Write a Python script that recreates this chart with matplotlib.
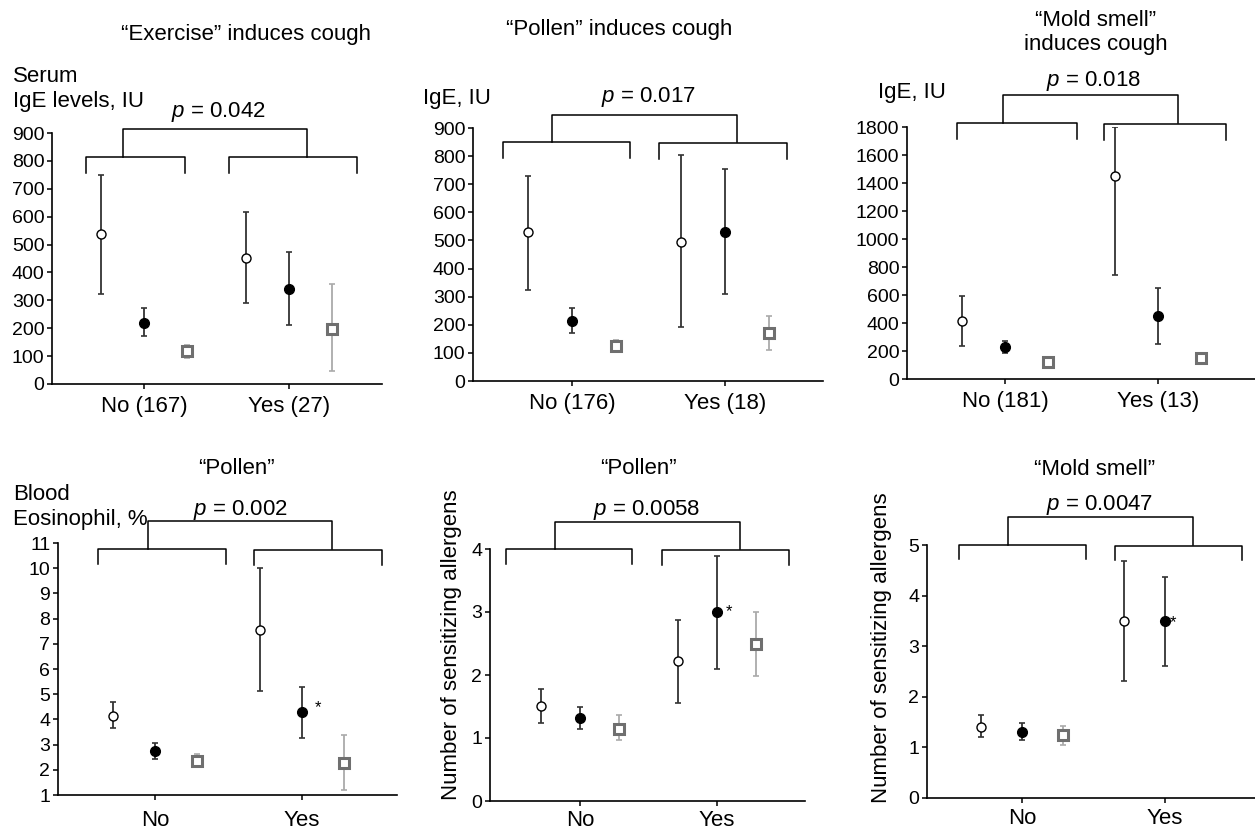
import numpy as np
import matplotlib.pyplot as plt
from matplotlib.lines import Line2D

plt.rcParams['font.family'] = ['Liberation Sans', 'DejaVu Sans']
plt.rcParams['mathtext.fontset'] = 'custom'
plt.rcParams['mathtext.it'] = 'Liberation Sans:italic'
plt.rcParams['mathtext.rm'] = 'Liberation Sans'

W, H = 1255, 831
nan = np.nan

## rows: open circle, filled circle, grey square ; cols: No, Yes
ex_mean = [[537, 453], [218, 340], [117, 199]]
ex_lo = [[322, 290], [173, 210], [95, 45]]
ex_hi = [[748, 617], [272, 472], [140, 359]]

pol_mean = [[530, 496], [212, 530], [125, 169]]
pol_lo = [[325, 193], [169, 310], [102, 109]]
pol_hi = [[731, 803], [259, 755], [145, 231]]

mold_mean = [[414, 1452], [229, 450], [119, 148]]
mold_lo = [[238, 740], [186, 252], [nan, nan]]
mold_hi = [[590, 1800], [269, 648], [nan, nan]]

eos_mean = [[4.15, 7.53], [2.75, 4.28], [2.35, 2.26]]
eos_lo = [[3.65, 5.11], [2.43, 3.28], [2.11, 1.2]]
eos_hi = [[4.68, 9.99], [3.05, 5.30], [2.62, 3.37]]

npol_mean = [[1.51, 2.22], [1.32, 3.0], [1.15, 2.49]]
npol_lo = [[1.24, 1.55], [1.15, 2.09], [0.97, 1.99]]
npol_hi = [[1.78, 2.87], [1.49, 3.89], [1.37, 3.0]]

nmold_mean = [[1.41, 3.49], [1.31, 3.49], [1.24, nan]]
nmold_lo = [[1.21, 2.32], [1.14, 2.60], [1.04, nan]]
nmold_hi = [[1.64, 4.69], [1.49, 4.37], [1.43, nan]]

top_labels = [["No (167)", "Yes (27)"], ["No (176)", "Yes (18)"], ["No (181)", "Yes (13)"]]
bot_labels = ["No", "Yes"]

fig = plt.figure(figsize=(W / 100, H / 100), dpi=100)

def fx(x):
    return x / W

def fy(y):
    return 1 - y / H

def panel(geom, mean, lo, hi, ylim, yticks, xlabels, xpad):
    left, right, top, bottom, xno, xyes, off = geom
    sp = xyes - xno
    ax = fig.add_axes([fx(left), fy(bottom), (right - left) / W, (bottom - top) / H])
    ax.set_xlim((left - xno) / sp, (right - xno) / sp)
    ax.set_ylim(ylim)
    d = off / sp
    styles = [dict(marker='o', ms=6.5, mfc='white', mec='black', mew=1.0),
              dict(marker='o', ms=7, mfc='black', mec='black', mew=1.0),
              dict(marker='s', ms=7, mfc='white', mec='#6f6f6f', mew=2.2)]
    ecols = ['#333333', '#333333', '#aaaaaa']
    for g in range(3):
        for c in range(2):
            m = mean[g][c]
            if np.isnan(m):
                continue
            x = c + (g - 1) * d
            if not np.isnan(lo[g][c]):
                ax.errorbar([x], [m], yerr=[[m - lo[g][c]], [hi[g][c] - m]], fmt='none',
                            ecolor=ecols[g], elinewidth=1.3, capsize=2.5, capthick=1.2, zorder=2)
            ax.plot([x], [m], linestyle='none', zorder=3, clip_on=False, **styles[g])
    ax.spines['top'].set_visible(False)
    ax.spines['right'].set_visible(False)
    ax.spines['left'].set_linewidth(1.2)
    ax.spines['bottom'].set_linewidth(1.2)
    ax.set_yticks(yticks)
    ax.set_xticks([0, 1])
    ax.set_xticklabels(xlabels)
    ax.tick_params(axis='y', length=3.5, width=1.1, pad=2, labelsize=14)
    ax.tick_params(axis='x', length=3.5, width=1.1, pad=xpad, labelsize=16)
    return ax

def bracket(no, yes, up):
    for x0, x1, yt, yb in (no, yes, up):
        fig.add_artist(Line2D([fx(x0), fx(x0), fx(x1), fx(x1)],
                              [fy(yb), fy(yt), fy(yt), fy(yb)], color='black', lw=1.1))

def txt(x, y, s, **kw):
    fig.text(fx(x), fy(y), s, fontsize=16, va='baseline', **kw)

# top row
panel((52, 382, 133, 384, 144, 289, 43), ex_mean, ex_lo, ex_hi, (0, 900), range(0, 901, 100), top_labels[0], 5)
panel((473, 823, 128, 381, 572, 725, 44), pol_mean, pol_lo, pol_hi, (0, 900), range(0, 901, 100), top_labels[1], 5)
panel((907, 1255, 127, 379, 1005, 1158, 43), mold_mean, mold_lo, mold_hi, (0, 1800), range(0, 1801, 200), top_labels[2], 5)
# bottom row
panel((58, 397, 543, 795, 155, 302, 42), eos_mean, eos_lo, eos_hi, (1, 11), range(1, 12), bot_labels, 7)
panel((490, 805, 549, 801, 580, 717, 39), npol_mean, npol_lo, npol_hi, (0, 4), range(0, 5), bot_labels, 3)
panel((927, 1255, 545, 798, 1022, 1165, 41), nmold_mean, nmold_lo, nmold_hi, (0, 5), range(0, 6), bot_labels, 4)

bracket((86, 185, 157, 173), (229, 357, 157, 173), (123, 307, 129, 157))
bracket((503, 630, 142, 158), (659, 787, 143, 159), (552, 737, 115, 142))
bracket((957, 1077, 123, 139), (1104, 1226, 124, 140), (1003, 1178, 95, 123))
bracket((98, 226, 549, 564), (254, 382, 550, 565), (148, 332, 521, 549))
bracket((506, 632, 549, 564), (662, 789, 550, 565), (555, 740, 522, 549))
bracket((959, 1086, 545, 559), (1115, 1242, 546, 560), (1008, 1193, 517, 545))

# titles
txt(246, 40, "\u201cExercise\u201d induces cough", ha='center')
txt(619, 35, "\u201cPollen\u201d induces cough", ha='center')
txt(1096, 26, "\u201cMold smell\u201d", ha='center')
txt(1096, 50, "induces cough", ha='center')
txt(236, 474, "\u201cPollen\u201d", ha='center')
txt(638, 474, "\u201cPollen\u201d", ha='center')
txt(1095, 475, "\u201cMold smell\u201d", ha='center')

# axis labels
txt(13, 82, "Serum", ha='left')
txt(13, 107, "IgE levels, IU", ha='left')
txt(423, 104, "IgE, IU", ha='left')
txt(878, 98, "IgE, IU", ha='left')
txt(13, 500, "Blood", ha='left')
txt(13, 525, "Eosinophil, %", ha='left')
fig.text(fx(452), fy(645), "Number of sensitizing allergens", fontsize=16,
         ha='center', va='center', rotation=90)
fig.text(fx(882), fy(648), "Number of sensitizing allergens", fontsize=16,
         ha='center', va='center', rotation=90)

# p values
txt(218, 117, r"$\it{p}$ = 0.042", ha='center')
txt(648, 102, r"$\it{p}$ = 0.017", ha='center')
txt(1094, 86, r"$\it{p}$ = 0.018", ha='center')
txt(240, 515, r"$\it{p}$ = 0.002", ha='center')
txt(647, 515, r"$\it{p}$ = 0.0058", ha='center')
txt(1100, 510, r"$\it{p}$ = 0.0047", ha='center')

# significance marks
for x, y in [(318, 708), (729, 612), (1173, 623)]:
    fig.text(fx(x), fy(y), "*", fontsize=12, ha='center', va='center')

fig.savefig('out.png', dpi=100)
